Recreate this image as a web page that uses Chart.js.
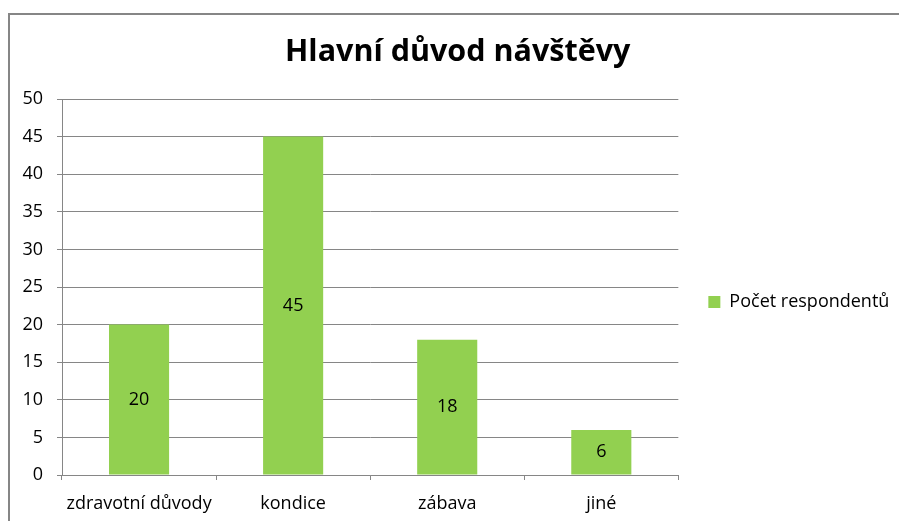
<!DOCTYPE html>
<html>
<head>
<meta charset="utf-8">
<script src="https://cdn.jsdelivr.net/npm/chart.js@4"></script>
<style>
  html, body { margin: 0; padding: 0; background: #fff; overflow: hidden; }
  #wrap { position: relative; width: 899px; height: 521px; }
  #frame { position: absolute; left: 8px; top: 13px; width: 1000px; height: 600px; border: 2px solid #868686; box-sizing: border-box; pointer-events: none; }
  canvas { position: absolute; left: 0; top: 0; }
</style>
</head>
<body>
<div id="wrap">
  <canvas id="c" width="899" height="521"></canvas>
  <div id="frame"></div>
</div>
<script>
const chartTitle = 'Hlavní důvod návštěvy';
const categories = ['zdravotní důvody', 'kondice', 'zábava', 'jiné'];
const seriesName = 'Počet respondentů';
const seriesValues = [20, 45, 18, 6];
const yTicks = [0, 5, 10, 15, 20, 25, 30, 35, 40, 45, 50];

const FONT = '"Open Sans"';
const GRID = '#868686';

const valueLabels = {
  id: 'valueLabels',
  afterDatasetsDraw(chart) {
    const ctx = chart.ctx;
    ctx.save();
    ctx.font = '18px ' + FONT;
    ctx.fillStyle = '#000';
    ctx.textAlign = 'center';
    ctx.textBaseline = 'middle';
    chart.data.datasets.forEach((ds, di) => {
      chart.getDatasetMeta(di).data.forEach((bar, i) => {
        const p = bar.getProps(['x', 'y', 'base'], true);
        ctx.fillText(String(ds.data[i]), p.x, (p.y + p.base) / 2);
      });
    });
    ctx.restore();
  }
};

Chart.defaults.font.family = FONT;
Chart.defaults.color = '#000';

new Chart(document.getElementById('c'), {
  type: 'bar',
  data: {
    labels: categories,
    datasets: [{
      label: seriesName,
      data: seriesValues,
      backgroundColor: '#92D050',
      borderWidth: 0,
      categoryPercentage: 1,
      barPercentage: 0.39
    }]
  },
  options: {
    responsive: false,
    animation: false,
    events: [],
    layout: { padding: { left: 16.4, right: 0, top: 0, bottom: 0 } },
    plugins: {
      title: {
        display: true,
        text: chartTitle,
        font: { family: FONT, size: 30.5, weight: 'bold' },
        color: '#000',
        padding: { top: 33.7, bottom: 28.7 }
      },
      legend: {
        position: 'right',
        title: { display: true, text: '', font: { size: 10 }, padding: 35.5 },
        labels: {
          boxWidth: 12,
          boxHeight: 12,
          padding: 30,
          font: { family: FONT, size: 18 },
          color: '#000'
        }
      },
      tooltip: { enabled: false }
    },
    scales: {
      x: {
        afterFit(scale) { scale.height = 46; },
        grid: { display: true, drawOnChartArea: false, drawTicks: true, tickLength: 5, color: GRID, offset: true },
        border: { display: true, color: GRID, width: 1 },
        ticks: { font: { family: FONT, size: 18 }, color: '#000', padding: 13.4, maxRotation: 0 }
      },
      y: {
        min: yTicks[0],
        max: yTicks[yTicks.length - 1],
        afterBuildTicks(axis) { axis.ticks = yTicks.map(v => ({ value: v })); },
        afterFit(scale) { scale.width = 45.6; },
        grid: { color: GRID, tickLength: 5, drawTicks: true },
        border: { display: true, color: GRID, width: 1 },
        ticks: { font: { family: FONT, size: 18 }, color: '#000', padding: 14 }
      }
    }
  },
  plugins: [valueLabels]
});
</script>
</body>
</html>
